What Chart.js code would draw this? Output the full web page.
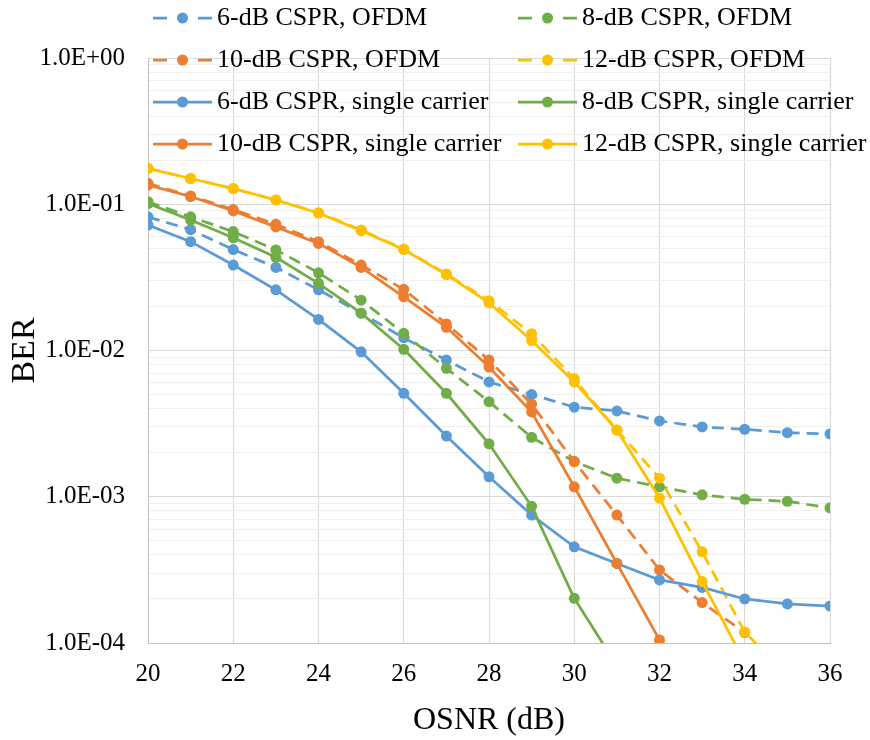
<!DOCTYPE html>
<html>
<head>
<meta charset="utf-8">
<script src="https://cdn.jsdelivr.net/npm/chart.js@4.4.1/dist/chart.umd.min.js"></script>
<style>
html,body{margin:0;padding:0;background:#fff;}
canvas{display:block;}
</style>
</head>
<body>
<canvas id="c" width="870" height="740"></canvas>
<script>
// ---- data ----
const osnr = [20,21,22,23,24,25,26,27,28,29,30,31,32,33,34,35,36];

const ofdm6  = [0.082,0.067,0.049,0.037,0.026,0.018,0.0122,0.0086,0.0061,0.0050,0.0041,0.00386,0.0033,0.0030,0.00289,0.00274,0.00269];
const ofdm8  = [0.104,0.082,0.065,0.0487,0.034,0.0221,0.0131,0.00755,0.00447,0.00255,0.00174,0.00134,0.00117,0.00103,0.00096,0.00093,0.00084];
const ofdm10 = [0.139,0.114,0.092,0.073,0.0555,0.0384,0.0262,0.0152,0.0086,0.0043,0.00174,0.00075,0.000316,0.000189,0.000118,null,null];
const ofdm12 = [0.176,0.150,0.128,0.107,0.0875,0.0667,0.0494,0.0334,0.0219,0.0130,0.0064,0.00286,0.00134,0.00042,0.000119,0.00006,null];
const sc6    = [0.072,0.0555,0.0384,0.026,0.0163,0.0098,0.0051,0.0026,0.00137,0.00075,0.000455,0.00035,0.00027,0.00024,0.00020,0.000185,0.000179];
const sc8    = [0.101,0.078,0.059,0.0434,0.0288,0.0180,0.0102,0.0051,0.0023,0.00086,0.000202,0.00007,null,null,null,null,null];
const sc10   = [0.135,0.113,0.090,0.070,0.054,0.037,0.0233,0.0144,0.0077,0.0038,0.00117,0.00035,0.000105,null,null,null,null];
const sc12   = [0.175,0.150,0.128,0.107,0.087,0.066,0.049,0.033,0.0212,0.0117,0.0061,0.00286,0.00098,0.000263,0.000074,null,null];

const seriesNames = [
  '6-dB CSPR, OFDM','8-dB CSPR, OFDM','10-dB CSPR, OFDM','12-dB CSPR, OFDM',
  '6-dB CSPR, single carrier','8-dB CSPR, single carrier','10-dB CSPR, single carrier','12-dB CSPR, single carrier'
];
const seriesValues = [ofdm6, ofdm8, ofdm10, ofdm12, sc6, sc8, sc10, sc12];

const xTicks = [20,22,24,26,28,30,32,34,36];
const yDecades = [1e-4, 1e-3, 1e-2, 1e-1, 1];
const yTickLabels = ['1.0E-04','1.0E-03','1.0E-02','1.0E-01','1.0E+00'];
const minorSteps = [2,3,4,5,6,7,8,9];

// ---- styles ----
const seriesColors = ['#5B9BD5','#70AD47','#ED7D31','#FFC000','#5B9BD5','#70AD47','#ED7D31','#FFC000'];
const seriesDashed = [true,true,true,true,false,false,false,false];
const legendOrder = [0,2,4,6,1,3,5,7]; // column-major for the 2x4 legend grid

const yGrid = [];
yDecades.forEach(d => { yGrid.push(d); if (d < 1) minorSteps.forEach(m => yGrid.push(+(m * d).toPrecision(6))); });
yGrid.sort((a,b)=>a-b);

function isDecade(v){ const l = Math.log10(v); return Math.abs(l - Math.round(l)) < 1e-9; }
function labelFor(v){
  for (let i=0;i<yDecades.length;i++){ if (Math.abs(Math.log10(v) - Math.log10(yDecades[i])) < 1e-9) return yTickLabels[i]; }
  return '';
}

function legendIcon(color, dash){
  const c = document.createElement('canvas');
  c.width = 59; c.height = 14;
  const g = c.getContext('2d');
  g.strokeStyle = color; g.fillStyle = color; g.lineWidth = 2.75;
  g.beginPath();
  if (dash){ g.moveTo(0,7); g.lineTo(14,7); g.moveTo(45,7); g.lineTo(59,7); }
  else { g.moveTo(0,7); g.lineTo(59,7); }
  g.stroke();
  g.beginPath(); g.arc(29.5,7,5.5,0,Math.PI*2); g.fill();
  return c;
}
const icons = seriesColors.map((c,i)=>legendIcon(c, seriesDashed[i]));

Chart.defaults.font.family = "'Liberation Serif', 'Times New Roman', serif";
Chart.defaults.color = '#000';

const legendGrid = {
  id: 'legendGrid',
  beforeDraw(chart){
    const lg = chart.legend;
    if (!lg) return;
    lg.left = 145; lg.top = -11; lg.right = 870; lg.bottom = 180;
    lg.width = lg.right - lg.left; lg.height = lg.bottom - lg.top;
    lg.columnSizes = [{width: 349, height: 168}, {width: 330, height: 168}];
  }
};

new Chart(document.getElementById('c'), {
  type: 'line',
  data: {
    datasets: seriesNames.map((name, i) => ({
      label: name,
      data: osnr.map((x, j) => ({x: x, y: seriesValues[i][j]})).filter(p => p.y !== null),
      borderColor: seriesColors[i],
      backgroundColor: seriesColors[i],
      borderWidth: 2.75,
      borderDash: seriesDashed[i] ? [12, 7] : [],
      pointRadius: 5.5,
      pointHoverRadius: 5.5,
      pointBackgroundColor: seriesColors[i],
      pointBorderWidth: 0,
      tension: 0,
      fill: false,
      order: 7 - i
    }))
  },
  options: {
    responsive: false,
    animation: false,
    devicePixelRatio: 1,
    layout: {padding: {top: 58, right: 40, bottom: 0, left: 0}},
    plugins: {
      legend: {
        position: 'chartArea',
        align: 'start',
        labels: {
          usePointStyle: true,
          pointStyleWidth: 43,
          padding: 16,
          color: '#000',
          font: {size: 26},
          generateLabels(chart){
            const items = Chart.defaults.plugins.legend.labels.generateLabels(chart);
            items.forEach(it => { it.pointStyle = icons[it.datasetIndex]; });
            return items;
          },
          sort: (a, b) => legendOrder.indexOf(a.datasetIndex) - legendOrder.indexOf(b.datasetIndex)
        }
      },
      tooltip: {enabled: false}
    },
    scales: {
      x: {
        type: 'linear', min: 20, max: 36,
        afterBuildTicks: s => { s.ticks = xTicks.map(v => ({value: v})); },
        ticks: {font: {size: 25}, color: '#000', padding: 16, maxRotation: 0, autoSkip: false},
        grid: {color: '#d9d9d9', lineWidth: 1, drawTicks: false},
        border: {display: true, color: '#bfbfbf', width: 1},
        title: {display: true, text: 'OSNR (dB)', font: {size: 32}, color: '#000', padding: {top: 0, bottom: 0}},
        afterFit: s => { s.height = 97; }
      },
      y: {
        type: 'logarithmic', min: 1e-4, max: 1,
        afterBuildTicks: s => { s.ticks = yGrid.map(v => ({value: v})); },
        ticks: {font: {size: 25}, color: '#000', padding: 23, autoSkip: false, callback: v => labelFor(v)},
        grid: {color: c => (c.tick && isDecade(c.tick.value)) ? '#d9d9d9' : '#efefef', lineWidth: 1, drawTicks: false},
        border: {display: true, color: '#bfbfbf', width: 1},
        title: {display: true, text: 'BER', font: {size: 34}, color: '#000', padding: {top: 5, bottom: 0}},
        afterFit: s => { s.width = 148; }
      }
    }
  },
  plugins: [legendGrid]
});
</script>
</body>
</html>
